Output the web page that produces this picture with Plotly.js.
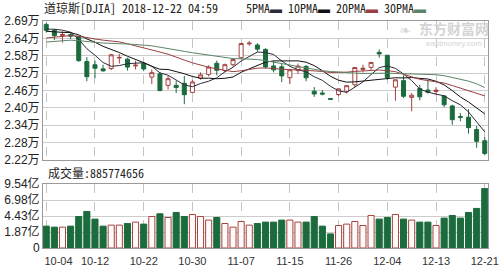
<!DOCTYPE html>
<html><head><meta charset="utf-8">
<script src="https://cdn.plot.ly/plotly-3.0.1.min.js"></script>
<style>html,body{margin:0;padding:0;background:#fff;}#chart{width:499px;height:267px;}</style>
</head><body><div id="chart"></div>
<script>
// ---- data ----
const dates = ["10-04","10-05","10-08","10-09","10-10","10-11","10-12","10-15","10-16","10-17","10-18","10-19","10-22","10-23","10-24","10-25","10-26","10-29","10-30","10-31",
"11-01","11-02","11-05","11-06","11-07","11-08","11-09","11-12","11-13","11-14","11-15","11-16","11-19","11-20","11-21","11-23","11-26","11-27","11-28","11-29","11-30",
"12-03","12-04","12-06","12-07","12-10","12-11","12-12","12-13","12-14","12-17","12-18","12-19","12-20","12-21"];
const opens  = [26830,26630,26450,26480,26420,25570,25460,25320,25330,25690,25650,25420,25500,25040,25150,24760,24760,24830,24520,25000,
25130,25510,25260,25460,25700,26170,26130,25980,25420,25390,25020,25260,25400,24560,24500,24310,24450,24560,24780,25300,25370,
25880,25780,24700,24920,24350,24650,24600,24550,24400,24060,23700,23680,23260,22880];
const highs  = [26880,26680,26600,26560,26420,25720,25600,25460,25830,25830,25700,25600,25550,25300,25220,25080,24910,25080,24940,25200,
25440,25600,25500,25660,26200,26270,26190,26020,25600,25500,25320,25500,25450,24700,24600,24330,24660,24760,25380,25460,25560,
25980,25800,24960,25100,24500,24780,24930,24700,24430,24100,23820,23950,23380,23000];
const lows   = [26550,26300,26210,26330,25560,24900,25000,25230,25280,25500,25260,25300,25240,24800,24560,24620,24500,24120,24500,24950,
25060,25100,25200,25400,25650,26100,25900,25330,25200,24870,24800,25150,24900,24370,24420,24270,24390,24480,24700,25200,25280,
25700,24950,24240,24330,23880,24250,24480,24450,24020,23420,23540,23120,22640,22400];
const closes = [26627,26447,26487,26431,25599,25053,25340,25251,25798,25707,25379,25444,25317,25191,24583,24985,24688,24443,24875,25116,
25381,25271,25462,25635,26180,26191,25989,25387,25286,25081,25289,25413,25017,24466,24465,24286,24640,24749,25366,25339,25538,
25826,25027,24948,24389,24423,24370,24527,24597,24101,23593,23676,23324,22860,22445];
// closes of the 29 sessions before the first visible one (needed for the moving averages)
const priorCloses = [25657,25790,26050,26064,26125,25987,25965,25952,25975,25996,25917,25857,25971,25999,26146,26155,26062,26247,26406,26657,26744,26562,26492,26385,26440,26458,26651,26774,26828];
// volume in 亿 (1e8)
const volumes = [3.26,3.11,3.11,3.26,4.70,5.45,4.31,3.26,3.41,3.41,3.65,3.86,3.56,4.70,5.10,4.55,5.30,4.70,5.00,4.70,
4.16,4.55,3.65,3.11,3.95,3.41,3.65,3.86,3.86,4.16,4.16,3.86,3.86,4.70,3.26,2.10,3.35,3.56,3.95,3.35,4.85,
4.31,4.55,5.00,4.31,4.16,3.86,3.86,3.35,4.46,4.85,4.46,5.30,5.90,8.8577];
const maPeriods = [5,10,20,30];
const maNames = ["5PMA","10PMA","20PMA","30PMA"];
const priceTickText = ["2.22万","2.28万","2.34万","2.40万","2.46万","2.52万","2.58万","2.64万","2.69万"];
const volTickText = ["0","1.87亿","4.43亿","6.98亿","9.54亿"];
const xTickLabels = ["10-04","10-12","10-22","10-30","11-07","11-15","11-26","12-04","12-13","12-21"];
const lastVolume = "885774656";

// ---- styles ----
const UP = '#a4433f', DOWN = '#1b6b3d';
const maColors = ['#2b2b3b','#111111','#9a4040','#5d8468'];
const priceMin = 22225, priceStep = 590;
const volMax = 9.54;

const n = dates.length;
const isUp = closes.map((c,i)=> c >= opens[i]);
const all = priorCloses.concat(closes);
const off = priorCloses.length;
function ma(p){ return closes.map((_,i)=>{ let s=0; for(let k=0;k<p;k++) s+=all[off+i-k]; return s/p; }); }

const traces = [];
traces.push({type:'candlestick', x:dates, open:opens, high:highs, low:lows, close:closes, xaxis:'x', yaxis:'y',
  increasing:{line:{color:UP,width:1}, fillcolor:'#ffffff'},
  decreasing:{line:{color:DOWN,width:1}, fillcolor:DOWN}, whiskerwidth:0, hoverinfo:'skip'});
maPeriods.forEach((p,j)=>{
  traces.push({type:'scatter', mode:'lines', x:dates, y:ma(p), xaxis:'x', yaxis:'y',
    line:{color:maColors[j], width:1}, hoverinfo:'skip'});
});
traces.push({type:'bar', x:dates, y:volumes, xaxis:'x2', yaxis:'y2',
  marker:{color:isUp.map(u=>u?'#fffafa':DOWN), line:{color:isUp.map(u=>u?UP:DOWN), width:1}}, hoverinfo:'skip'});

const priceTickVals = priceTickText.map((_,i)=>priceMin+i*priceStep);
const volTickVals = volTickText.map((_,i)=>i*volMax/(volTickText.length-1));
const xTickText = xTickLabels.map((t,i)=> i===0 ? '\u00a0\u00a0\u00a0\u00a0\u00a0\u00a0\u00a0\u00a0'+t : t);

const H = 267;
const py = px => 1 - px/H;
const pxx = x => (x-43)/445;
const font = "Liberation Sans, Noto Sans CJK SC, sans-serif";
const cjk = "Noto Sans Mono CJK SC, Noto Sans CJK SC, sans-serif";

const legendHtml = maNames.map((nm,j)=> nm + "<span style='color:"+maColors[j]+"'>▬</span>").join(" ");

const layout = {
  width:499, height:267, margin:{l:43,r:11,t:0,b:0},
  paper_bgcolor:'#ffffff', plot_bgcolor:'#ffffff', showlegend:false, bargap:0.25,
  font:{family:font, size:12, color:'#222'},
  xaxis:{type:'category', range:[-0.4, n-0.6], anchor:'y', rangeslider:{visible:false},
    tickvals:xTickLabels, showticklabels:false, showgrid:true, gridcolor:'#c4c4c4', griddash:'dash', gridwidth:1,
    showline:true, mirror:true, linecolor:'#9a9a9a', linewidth:1, ticks:'', fixedrange:true, zeroline:false},
  yaxis:{domain:[py(160), py(21)], range:[priceMin, priceMin+8*priceStep], tickvals:priceTickVals, ticktext:priceTickText,
    showgrid:true, gridcolor:'#cccccc', showline:true, mirror:true, linecolor:'#9a9a9a', ticks:'', zeroline:false,
    tickfont:{family:font, size:12, color:'#222'}, fixedrange:true},
  xaxis2:{type:'category', matches:'x', anchor:'y2', tickvals:xTickLabels, ticktext:xTickText,
    showgrid:true, gridcolor:'#c4c4c4', griddash:'dash', showline:true, mirror:true, linecolor:'#9a9a9a',
    ticks:'outside', ticklen:3, tickcolor:'rgba(0,0,0,0)', tickfont:{family:font, size:11, color:'#333'}, fixedrange:true},
  yaxis2:{domain:[py(248), py(184)], range:[0, volMax], tickvals:volTickVals, ticktext:volTickText,
    showgrid:true, gridcolor:'#cccccc', showline:true, mirror:true, linecolor:'#9a9a9a', ticks:'', zeroline:false,
    tickfont:{family:font, size:12, color:'#222'}, fixedrange:true},
  shapes:[{type:'line', xref:'paper', x0:0, x1:1, yref:'y', y0:priceTickVals[4], y1:priceTickVals[4], line:{color:'#8c8c8c', width:1}, layer:'below'}],
  annotations:[
    {xref:'paper', yref:'paper', x:pxx(42), y:py(8), xanchor:'left', yanchor:'middle', showarrow:false,
     text:'道琼斯[DJIA] 2018-12-22 04:59', font:{family:cjk, size:12, color:'#222'}},
    {xref:'paper', yref:'paper', x:pxx(244), y:py(8), xanchor:'left', yanchor:'middle', showarrow:false,
     text:legendHtml, font:{family:cjk, size:12, color:'#222'}},
    {xref:'paper', yref:'paper', x:pxx(454), y:py(28), xanchor:'center', yanchor:'middle', showarrow:false,
     text:'<b>东方财富网</b>', font:{family:"Noto Sans CJK SC", size:14, color:'#d4d4d4'}},
    {xref:'paper', yref:'paper', x:pxx(454), y:py(44), xanchor:'center', yanchor:'middle', showarrow:false,
     text:'eastmoney.com', font:{family:font, size:8, color:'#d4d4d4'}},
    {xref:'paper', yref:'paper', x:pxx(405), y:py(30), xanchor:'center', yanchor:'middle', showarrow:false,
     text:'<b>\u2767</b>', font:{family:"DejaVu Sans", size:14, color:'#d8d8d8'}},
    {xref:'paper', yref:'paper', x:pxx(46), y:py(172), xanchor:'left', yanchor:'middle', showarrow:false,
     text:'成交量:'+lastVolume, font:{family:cjk, size:12, color:'#222'}}
  ]
};
Plotly.newPlot('chart', traces, layout, {staticPlot:true, displayModeBar:false});
</script></body></html>
